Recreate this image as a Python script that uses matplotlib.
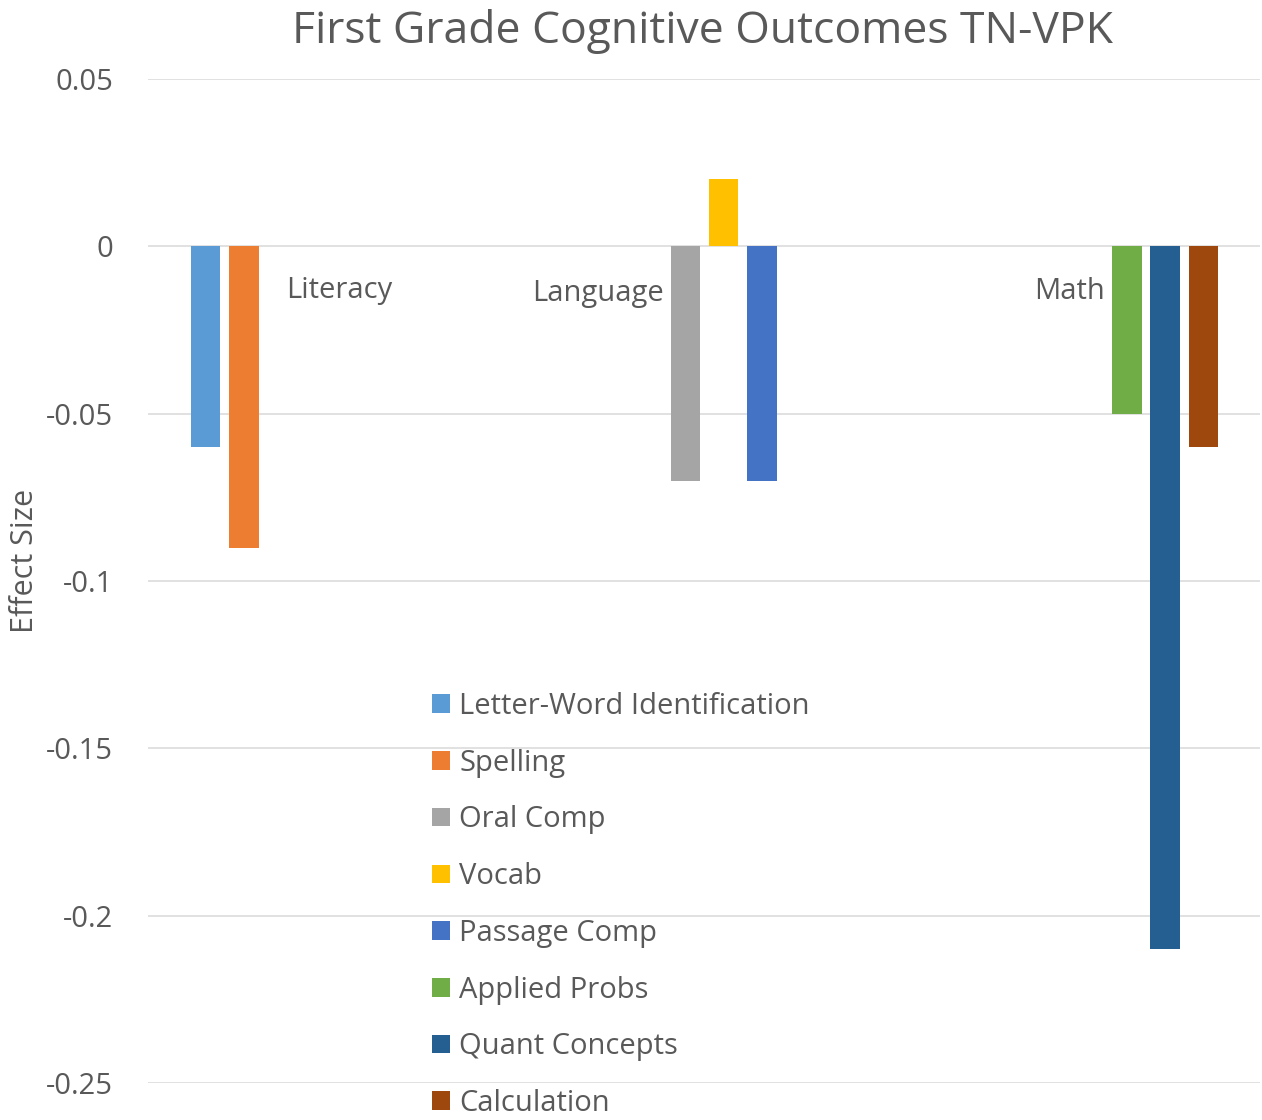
import matplotlib
matplotlib.use("Agg")
import matplotlib.pyplot as plt
import numpy as np

plt.rcParams['font.family'] = ['Open Sans', 'DejaVu Sans']

# ---- data ----
categories = ["Literacy", "Language", "Math"]
series_names = ["Letter-Word Identification", "Spelling", "Oral Comp", "Vocab",
                "Passage Comp", "Applied Probs", "Quant Concepts", "Calculation"]
series_category = [0, 0, 1, 1, 1, 2, 2, 2]
series_values = [-0.06, -0.09, -0.07, 0.02, -0.07, -0.05, -0.21, -0.06]
y_ticks = [0.05, 0, -0.05, -0.1, -0.15, -0.2, -0.25]
y_ticklabels = ["0.05", "0", "-0.05", "-0.1", "-0.15", "-0.2", "-0.25"]

# ---- style ----
colors = ["#5B9BD5", "#ED7D31", "#A5A5A5", "#FFC000",
          "#4472C4", "#70AD47", "#255E91", "#9E480E"]
slots = [1, 2, 4, 5, 6, 6, 7, 8]  # position of each series within its category cluster
slot_w = 0.1049
bar_w = 0.081
txt = "#595959"

W, H = 1262, 1120
fig = plt.figure(figsize=(W / 100, H / 100), dpi=100)
ax = fig.add_axes([148 / W, 1 - 1083 / H, (1260 - 148) / W, (1083 - 79) / H])

for name, cat, val, col, s in zip(series_names, series_category, series_values, colors, slots):
    x = cat + (s - 4.5) * slot_w
    ax.bar(x, val, width=bar_w, color=col, label=name, zorder=3)

ax.set_xlim(-0.525, 2.522)
ax.set_ylim(-0.25, 0.05)
ax.set_yticks(y_ticks)
ax.set_yticklabels(y_ticklabels)
ax.set_xticks([])
ax.yaxis.grid(True, color="#D9D9D9", linewidth=1.1, zorder=0)
ax.set_axisbelow(True)
for sp in ax.spines.values():
    sp.set_visible(False)
ax.tick_params(axis='y', length=0, pad=25, labelsize=21, labelcolor=txt)

# category text labels
label_pos = [(0.0, -0.0132), (0.708, -0.0140), (2.0, -0.0135)]
for cat, (lx, ly) in zip(categories, label_pos):
    ax.text(lx, ly, cat, ha='center', va='center', fontsize=21, color=txt, zorder=4)

fig.text(703 / W, 1 - 31 / H, "First Grade Cognitive Outcomes TN-VPK",
         ha='center', va='center', fontsize=32, color=txt)
fig.text(25 / W, 1 - 561 / H, "Effect Size", rotation=90,
         ha='center', va='center', fontsize=22, color=txt)

leg = fig.legend(loc='upper left', bbox_to_anchor=(432 / W, 1 - 692 / H),
                 frameon=False, fontsize=21, labelcolor=txt,
                 handlelength=0.6, handleheight=0.6, handletextpad=0.33,
                 labelspacing=0.95, borderpad=0, borderaxespad=0)

fig.savefig("out.png", dpi=100)
